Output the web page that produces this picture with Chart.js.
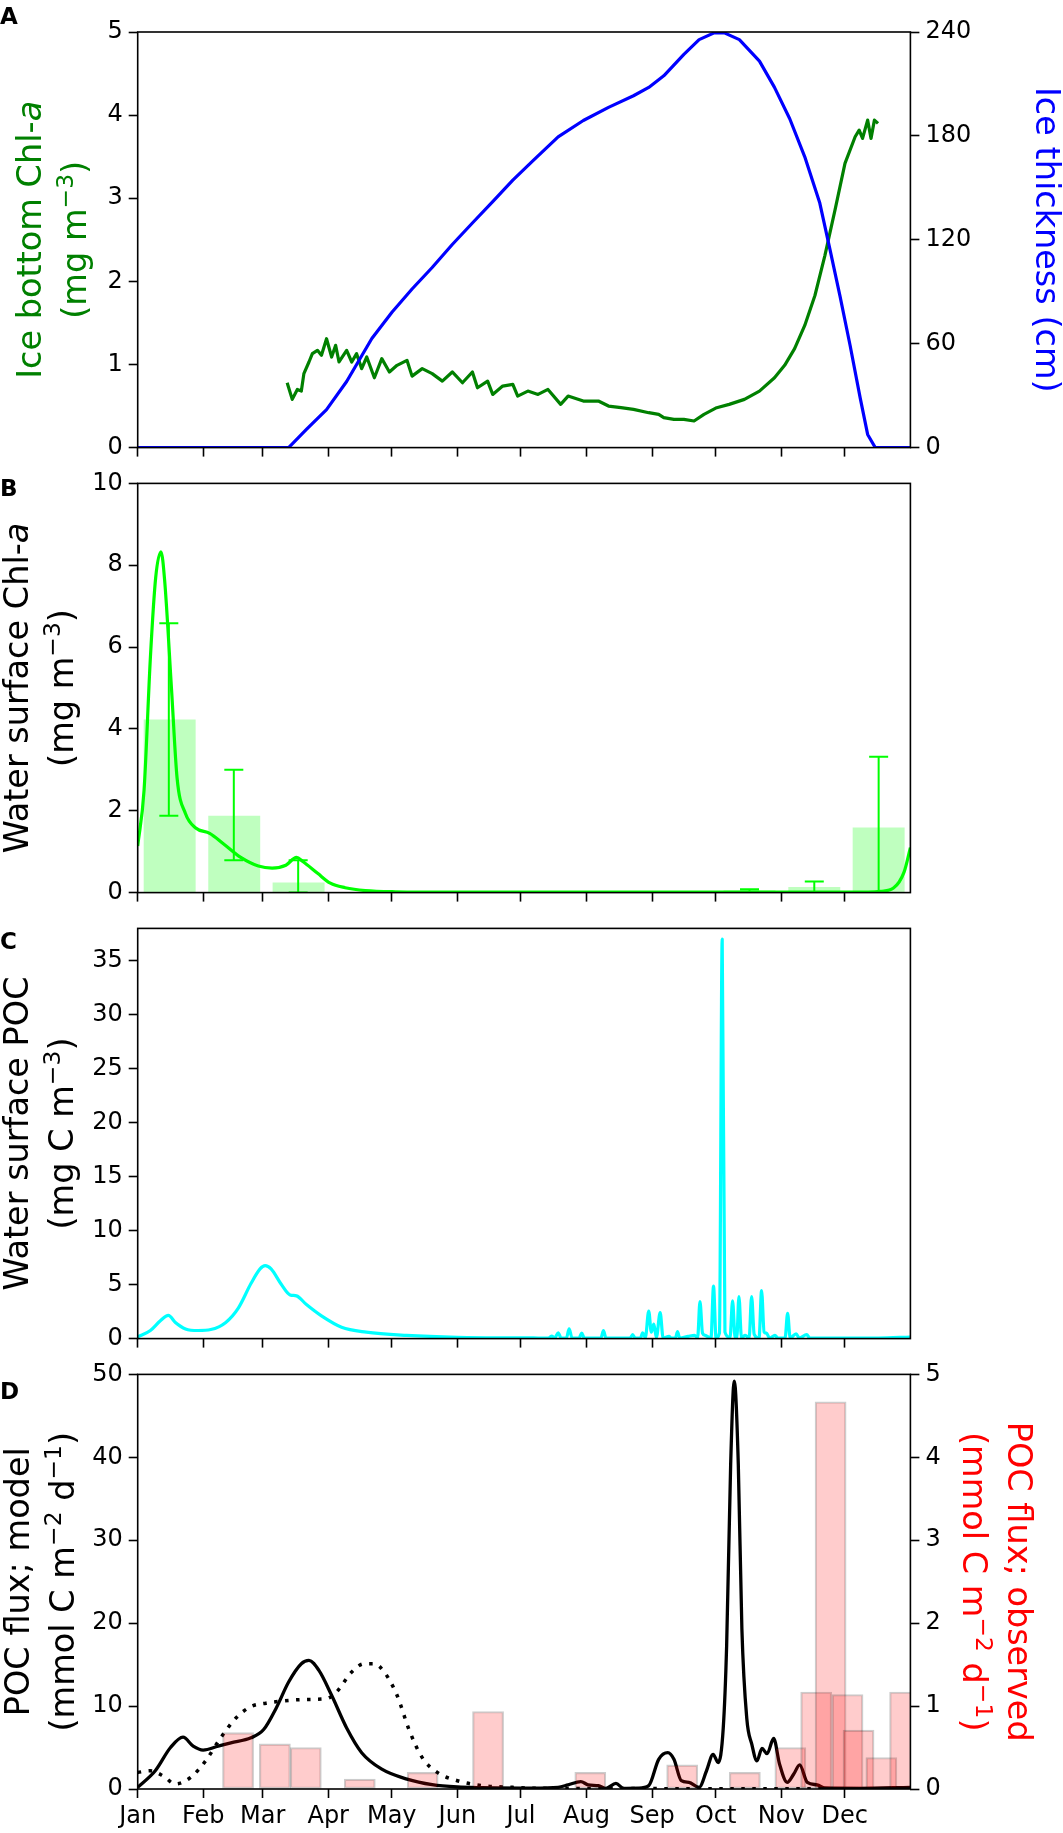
<!DOCTYPE html>
<html>
<head>
<meta charset="utf-8">
<title>Ice algae, surface Chl-a, POC and POC flux</title>
<script src="https://cdn.jsdelivr.net/npm/chart.js@4.4.1/dist/chart.umd.min.js"></script>
<style>
    body { margin: 0; background: #fff; width: 1063px; height: 1833px; position: relative; overflow: hidden; font-family: 'DejaVu Sans', sans-serif; }
    canvas { position: absolute; left: 0; }
    .letter { position: absolute; left: 0; font: bold 23px 'DejaVu Sans'; line-height: 1; color: #000; }
</style>
</head>
<body>
<canvas id="chart-a" width="1063" height="468" style="top:0"></canvas>
<canvas id="chart-b" width="1063" height="450" style="top:463px"></canvas>
<canvas id="chart-c" width="1063" height="451" style="top:908px"></canvas>
<canvas id="chart-d" width="1063" height="479" style="top:1354px"></canvas>
<div class="letter" style="top:5px">A</div>
<div class="letter" style="top:477px">B</div>
<div class="letter" style="top:930px">C</div>
<div class="letter" style="top:1380px">D</div>

<script>
// ---- shared x axis: day of year ----
const DAY_MAX = 365;
const monthDays = [0, 31, 59, 90, 120, 151, 181, 212, 243, 273, 304, 334];
const monthNames = ['Jan', 'Feb', 'Mar', 'Apr', 'May', 'Jun', 'Jul', 'Aug', 'Sep', 'Oct', 'Nov', 'Dec'];

// ---- A: ice bottom Chl-a and ice thickness ----
const iceChlDays = [70.6, 73.0, 75.4, 77.3, 78.5, 80.9, 82.5, 84.9, 86.8, 89.2, 91.6, 93.5, 95.1, 98.7, 101.1, 103.4,
    105.8, 108.2, 111.8, 115.3, 118.9, 122.5, 127.2, 129.6, 134.4, 139.1, 143.9, 148.6, 153.4, 158.1, 160.5, 165.3,
    167.7, 172.4, 177.2, 179.5, 184.3, 189.1, 193.8, 199.8, 203.3, 210.5, 217.6, 222.4, 228.3, 234.2, 241.4, 246.1,
    248.5, 253.3, 258.0, 262.8, 267.5, 273.5, 279.4, 286.6, 293.7, 300.8, 305.6, 310.3, 315.1, 319.9, 324.6, 329.4,
    334.1, 338.9, 340.8, 342.4, 344.8, 346.4, 348.0, 349.7];
const iceChl = [0.78, 0.58, 0.70, 0.68, 0.89, 1.03, 1.13, 1.17, 1.11, 1.31, 1.09, 1.23, 1.03, 1.17, 1.03, 1.13,
    0.95, 1.09, 0.84, 1.07, 0.91, 0.99, 1.05, 0.86, 0.95, 0.89, 0.80, 0.91, 0.78, 0.91, 0.72, 0.80,
    0.64, 0.74, 0.76, 0.62, 0.68, 0.64, 0.70, 0.52, 0.62, 0.56, 0.56, 0.50, 0.48, 0.46, 0.42, 0.40,
    0.36, 0.34, 0.34, 0.32, 0.40, 0.48, 0.52, 0.58, 0.68, 0.84, 0.99, 1.19, 1.47, 1.83, 2.31, 2.86,
    3.42, 3.74, 3.82, 3.72, 3.94, 3.72, 3.94, 3.90];
const iceThickDays = [0, 71.3, 79.7, 89.2, 98.7, 110.6, 120.1, 129.6, 139.1, 148.6, 158.1, 167.7, 177.2, 187.0,
    198.6, 210.5, 222.4, 234.2, 241.4, 248.5, 258.0, 265.2, 272.3, 277.1, 284.2, 293.7, 300.8, 308.0, 315.1,
    322.2, 327.0, 331.7, 336.5, 341.3, 344.8, 348.4, 365];
const iceThick = [0, 0, 10.5, 21.9, 38.2, 63.0, 78.2, 91.6, 104.0, 117.3, 129.7, 142.1, 154.5, 166.0,
    179.4, 188.9, 196.5, 203.2, 208.0, 214.7, 227.1, 235.6, 239.5, 239.5, 235.6, 223.2, 208.0, 189.9, 167.9,
    141.2, 114.5, 87.8, 59.1, 28.6, 7.6, 0, 0];
const ticksIceChl = [0, 1, 2, 3, 4, 5];
const ticksIceThick = [0, 60, 120, 180, 240];

// ---- B: water surface Chl-a, model and observations ----
const surfChlDays = [0, 3, 6, 8.5, 11, 12.7, 16, 18.6, 22.5, 27.4, 34, 40.6, 48.7, 57, 63.5, 70, 75, 78, 85, 91,
    98, 107.5, 122, 150, 200, 300, 345, 351, 357, 362, 365];
const surfChl = [1.14, 2.5, 5.75, 7.7, 8.33, 7.65, 4.95, 2.8, 1.94, 1.58, 1.45, 1.19, 0.86, 0.65, 0.60, 0.67, 0.86,
    0.76, 0.47, 0.23, 0.12, 0.05, 0.02, 0.01, 0.01, 0.01, 0.01, 0.03, 0.11, 0.5, 1.1];
const obsChlDays = [15.1, 45.6, 76.0, 289.0, 319.6, 350.0];
const obsChl = [4.22, 1.87, 0.24, 0.05, 0.13, 1.58];
const obsChlErrDays = [14.7, 45.4, 75.8, 289.0, 319.6, 350.0];
const obsChlLow = [1.88, 0.79, 0, 0.02, 0, 0];
const obsChlHigh = [6.58, 3.0, 0.79, 0.08, 0.27, 3.32];
const ticksSurfChl = [0, 2, 4, 6, 8, 10];

// ---- C: water surface POC ----
const pocDays = [0, 6, 10.7, 14.5, 17.8, 22.6, 28.5, 34.5, 41.6, 47.6, 53.5, 57.8, 60.2, 63, 67.8, 72, 75, 79.7,
    86.8, 96.3, 108, 127, 151, 187, 194, 195.7, 197, 198.6, 200, 202.5, 203.8, 205.2, 208.5, 209.7, 211, 218.8,
    220, 221.2, 232.6, 233.8, 235, 237.5, 238.5, 239.8, 241.4, 242.6, 243.8, 245, 246.8, 248.2, 251, 252, 254,
    255, 256, 260, 263, 264.5, 265.6, 266.8, 268, 270.8, 272, 273.2, 274.8, 276.1, 277.4, 279.8, 281, 282.2, 283,
    284, 285.2, 287, 288.8, 290, 291.2, 293.5, 294.7, 295.9, 297, 298.5, 301, 302.5, 305.8, 307, 308.2, 311,
    312.5, 316, 317.5, 329, 350, 365];
const poc = [0.15, 0.75, 1.65, 2.16, 1.5, 0.9, 0.75, 0.84, 1.5, 2.85, 5.1, 6.46, 6.76, 6.46, 5.04, 4.05, 3.96, 3.15,
    2.1, 1.05, 0.6, 0.3, 0.12, 0.06, 0.05, 0.24, 0.05, 0.54, 0.05, 0.05, 0.9, 0.05, 0.05, 0.5, 0.05, 0.05,
    0.75, 0.05, 0.05, 0.36, 0.05, 0.05, 0.54, 0.1, 2.55, 0.6, 1.35, 0.1, 2.4, 0.05, 0.2, 0.05, 0.05,
    0.66, 0.05, 0.2, 0.3, 0.1, 3.42, 0.5, 0.3, 0.05, 4.86, 0.05, 0.5, 37.0, 0.6, 0.1, 3.5, 0.1, 0.1,
    3.9, 0.1, 0.3, 0.05, 3.9, 0.4, 0.05, 4.44, 0.6, 0.5, 0.05, 0.3, 0.05, 0.05, 2.34, 0.05, 0.45,
    0.05, 0.36, 0.05, 0.05, 0.05, 0.15];
const ticksPoc = [0, 5, 10, 15, 20, 25, 30, 35];

// ---- D: POC flux, model (solid, dotted) and sediment trap ----
const fluxDays = [0, 8.3, 15.5, 21.4, 26.2, 30.9, 38.0, 44.0, 53.5, 59.5, 65.4, 71.3, 77.3, 80.9, 85.6, 91.6, 98.7,
    105.8, 115.3, 127.2, 139.1, 151.0, 162.9, 186.7, 198.6, 203.3, 209.3, 212.8, 217.6, 221.2, 225.9, 229.5,
    236.6, 241.4, 246.1, 250.4, 253.3, 256.8, 260.4, 265.2, 268.7, 271.8, 274.2, 276.6, 278.2, 280.1, 281.8,
    283.7, 285.4, 287.7, 290.1, 292.5, 294.9, 297.3, 300.4, 303.2, 306.8, 309.9, 312.7, 316.3, 321.0, 324.6,
    341.3, 365];
const flux = [0.2, 2.2, 5.0, 6.25, 5.17, 4.7, 5.17, 5.57, 6.17, 7.17, 9.75, 12.9, 15.1, 15.5, 14.3, 11.3, 7.36,
    4.38, 2.39, 1.19, 0.52, 0.24, 0.16, 0.1, 0.2, 0.5, 0.9, 0.5, 0.4, 0.08, 0.68, 0.08,
    0.1, 0.4, 3.58, 4.38, 3.58, 1.0, 0.8, 0.2, 2.2, 4.18, 3.18, 7.36, 17.3, 39.2, 49.2,
    39.2, 19.3, 8.56, 5.37, 3.38, 4.9, 4.26, 6.09, 2.99, 0.8, 1.8, 2.9, 0.8, 0.5, 0.12,
    0.08, 0.2];
const fluxAltDays = [0, 5.9, 11.9, 17.8, 25.0, 32.1, 39.2, 46.4, 53.5, 60.6, 67.8, 79.7, 89.2, 93.9, 101.1, 107.0,
    111.8, 116.5, 122.5, 128.4, 134.4, 141.5, 151.0, 162.9, 177.2, 186.7, 365];
const fluxAlt = [2.0, 2.2, 1.6, 0.6, 1.4, 3.4, 6.17, 8.56, 9.95, 10.35, 10.6, 10.8, 10.9, 11.7, 14.1, 15.1,
    15.1, 14.1, 11.3, 7.0, 3.78, 2.0, 1.0, 0.4, 0.2, 0.08, 0.03];
const trapDays = [47.4, 64.8, 79.4, 104.9, 134.6, 165.5, 213.8, 257.2, 286.8, 308.3, 320.5, 327.3, 335.3, 340.5,
    351.3, 362.5];
const trapFlux = [0.68, 0.545, 0.50, 0.12, 0.20, 0.935, 0.20, 0.29, 0.20, 0.50, 1.17, 4.67, 1.14, 0.71, 0.38, 1.17];
const ticksFlux = [0, 10, 20, 30, 40, 50];
const ticksTrap = [0, 1, 2, 3, 4, 5];

// ---- styling ----
const TICK_FONT = { family: 'DejaVu Sans', size: 24 };
const TITLE_SIZE = 33.5;
const TICK_LEN = 9;
const LEFT_W = 137.7;
const RIGHT_W = 1063 - 910.4;

const pts = (xs, ys) => xs.map((x, i) => ({ x: x, y: ys[i] }));

function errorPoints(xs, lo, hi) {
    const out = [];
    xs.forEach((x, i) => {
        out.push({ x: x, y: lo[i] }, { x: x, y: hi[i] }, { x: x, y: null });
    });
    return out;
}

function xScale(showLabels, height) {
    return {
        type: 'linear', min: 0, max: DAY_MAX, offset: false,
        afterBuildTicks: s => { s.ticks = monthDays.map(v => ({ value: v })); },
        afterFit: s => { s.height = height; },
        grid: { display: true, offset: false, drawOnChartArea: false, drawTicks: true, tickLength: TICK_LEN, tickWidth: 1.6, tickColor: '#000' },
        border: { display: false },
        ticks: { display: showLabels, autoSkip: false, maxRotation: 0, minRotation: 0, padding: 4, color: '#000', font: TICK_FONT,
            callback: (v, i) => monthNames[i] }
    };
}

function yScale(position, min, max, tickVals, width) {
    return {
        type: 'linear', position: position, min: min, max: max,
        afterBuildTicks: s => { s.ticks = tickVals.map(v => ({ value: v })); },
        afterFit: s => { s.width = width; },
        grid: { display: true, drawOnChartArea: false, drawTicks: true, tickLength: TICK_LEN, tickWidth: 1.6, tickColor: '#000' },
        border: { display: false },
        ticks: { padding: 6, color: '#000', font: TICK_FONT, callback: v => String(v) }
    };
}

// titles: lines of runs, each run {t, it, sup}; baseline x position per line
const titleSets = {
    'chart-a': [
        { side: 'left', color: '#008000', baselines: [41, 86],
            lines: [[{ t: 'Ice bottom Chl-' }, { t: 'a', it: true }], [{ t: '(mg m' }, { t: '\u22123', sup: true }, { t: ')' }]] },
        { side: 'right', color: '#0000ff', baselines: [1036],
            lines: [[{ t: 'Ice thickness (cm)' }]] }
    ],
    'chart-b': [
        { side: 'left', color: '#000', baselines: [27.5, 72.5],
            lines: [[{ t: 'Water surface Chl-' }, { t: 'a', it: true }], [{ t: '(mg m' }, { t: '\u22123', sup: true }, { t: ')' }]] }
    ],
    'chart-c': [
        { side: 'left', color: '#000', baselines: [27.5, 72.5],
            lines: [[{ t: 'Water surface POC' }], [{ t: '(mg C m' }, { t: '\u22123', sup: true }, { t: ')' }]] }
    ],
    'chart-d': [
        { side: 'left', color: '#000', baselines: [29, 74],
            lines: [[{ t: 'POC flux; model' }], [{ t: '(mmol C m' }, { t: '\u22122', sup: true }, { t: ' d' }, { t: '\u22121', sup: true }, { t: ')' }]] },
        { side: 'right', color: '#ff0000', baselines: [1008, 963],
            lines: [[{ t: 'POC flux; observed' }], [{ t: '(mmol C m' }, { t: '\u22122', sup: true }, { t: ' d' }, { t: '\u22121', sup: true }, { t: ')' }]] }
    ]
};

const axisTitlePlugin = {
    id: 'axisTitles',
    afterDraw(chart) {
        const items = titleSets[chart.canvas.id] || [];
        const { ctx, chartArea } = chart;
        const cy = (chartArea.top + chartArea.bottom) / 2;
        const fontFor = r => `${r.it ? 'italic ' : ''}${r.sup ? TITLE_SIZE * 0.7 : TITLE_SIZE}px "DejaVu Sans"`;
        items.forEach(item => {
            item.lines.forEach((runs, li) => {
                ctx.save();
                ctx.translate(item.baselines[li], cy);
                ctx.rotate(item.side === 'left' ? -Math.PI / 2 : Math.PI / 2);
                let total = 0;
                runs.forEach(r => { ctx.font = fontFor(r); total += ctx.measureText(r.t).width; });
                let x = -total / 2;
                ctx.fillStyle = item.color;
                ctx.textAlign = 'left';
                ctx.textBaseline = 'alphabetic';
                runs.forEach(r => {
                    ctx.font = fontFor(r);
                    ctx.fillText(r.t, x, r.sup ? -TITLE_SIZE * 0.38 : 0);
                    x += ctx.measureText(r.t).width;
                });
                ctx.restore();
            });
        });
    }
};

const framePlugin = {
    id: 'frame',
    afterDatasetsDraw(chart) {
        const { ctx, chartArea: a } = chart;
        ctx.save();
        ctx.strokeStyle = '#000';
        ctx.lineWidth = 1.6;
        ctx.strokeRect(a.left, a.top, a.right - a.left, a.bottom - a.top);
        ctx.restore();
    }
};

function baseOptions(padTop, padRight, scales) {
    return {
        responsive: false,
        animation: false,
        events: [],
        layout: { padding: { left: 0, right: padRight, top: padTop, bottom: 0 } },
        plugins: { legend: { display: false }, tooltip: { enabled: false } },
        elements: { point: { radius: 0 }, line: { borderJoinStyle: 'round' } },
        scales: scales
    };
}

// Panel A
new Chart(document.getElementById('chart-a'), {
    type: 'line',
    data: {
        datasets: [
            { data: pts(iceThickDays, iceThick), yAxisID: 'yThick', borderColor: '#0000ff', borderWidth: 3.2 },
            { data: pts(iceChlDays, iceChl), yAxisID: 'y', borderColor: '#008000', borderWidth: 3.2 }
        ]
    },
    options: baseOptions(32, 0, {
        x: xScale(false, 15),
        y: yScale('left', 0, 5, ticksIceChl, LEFT_W),
        yThick: yScale('right', 0, 240, ticksIceThick, RIGHT_W)
    }),
    plugins: [framePlugin, axisTitlePlugin]
});

// Panel B
new Chart(document.getElementById('chart-b'), {
    type: 'line',
    data: {
        datasets: [
            { data: errorPoints(obsChlErrDays, obsChlLow, obsChlHigh), borderColor: '#00ff00', borderWidth: 2,
                pointStyle: 'line', pointRadius: 9.5, pointBorderWidth: 2, pointBorderColor: '#00ff00', spanGaps: false },
            { data: pts(surfChlDays, surfChl), borderColor: '#00ff00', borderWidth: 3.2, cubicInterpolationMode: 'monotone' },
            { type: 'bar', data: pts(obsChlDays, obsChl), backgroundColor: 'rgba(0,255,0,0.25)', borderWidth: 0, barThickness: 51.3 }
        ]
    },
    options: baseOptions(15, RIGHT_W, {
        x: xScale(false, 15),
        y: yScale('left', 0, 10, ticksSurfChl, LEFT_W)
    }),
    plugins: [framePlugin, axisTitlePlugin]
});

// Panel C
new Chart(document.getElementById('chart-c'), {
    type: 'line',
    data: {
        datasets: [
            { data: pts(pocDays, poc), borderColor: '#00ffff', borderWidth: 3.2, cubicInterpolationMode: 'monotone' }
        ]
    },
    options: baseOptions(15, RIGHT_W, {
        x: xScale(false, 15),
        y: yScale('left', 0, 38, ticksPoc, LEFT_W)
    }),
    plugins: [framePlugin, axisTitlePlugin]
});

// Panel D
new Chart(document.getElementById('chart-d'), {
    type: 'line',
    data: {
        datasets: [
            { type: 'bar', data: pts(trapDays, trapFlux), yAxisID: 'yObs', backgroundColor: 'rgba(255,0,0,0.2)',
                borderColor: 'rgba(0,0,0,0.2)', borderWidth: 1.5, borderSkipped: false, barThickness: 31.1 },
            { data: pts(fluxDays, flux), yAxisID: 'y', borderColor: '#000', borderWidth: 3.3, cubicInterpolationMode: 'monotone' },
            { data: pts(fluxAltDays, fluxAlt), yAxisID: 'y', borderColor: '#000', borderWidth: 3.5, borderDash: [3.5, 7.5],
                cubicInterpolationMode: 'monotone' }
        ]
    },
    options: baseOptions(15.6, 0, {
        x: xScale(true, 44),
        y: yScale('left', 0, 50, ticksFlux, LEFT_W),
        yObs: yScale('right', 0, 5, ticksTrap, RIGHT_W)
    }),
    plugins: [framePlugin, axisTitlePlugin]
});
</script>
</body>
</html>
